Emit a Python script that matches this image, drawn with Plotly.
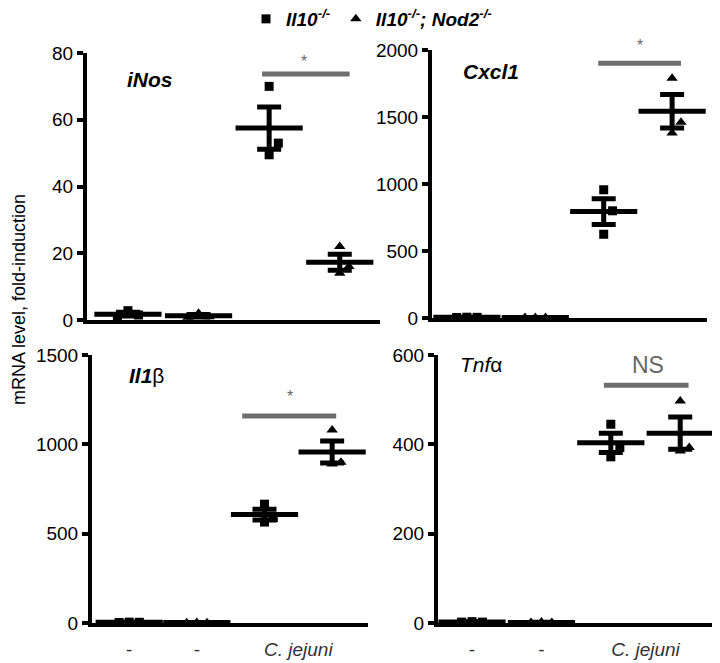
import numpy as np
import plotly.graph_objects as go

# fold-induction per mouse
# group order: Il10-/- ctrl, Il10-/-;Nod2-/- ctrl, Il10-/- C. jejuni, Il10-/-;Nod2-/- C. jejuni
genes = ["<b><i>iNos</i></b>", "<b><i>Cxcl1</i></b>", "<b><i>Il1</i></b>β", "<i>Tnf</i>α"]
inos = [[0.9, 2.8, 1.5], [0.8, 2.0, 1.0], [70, 53, 49.5], [22, 16, 14]]
cxcl1 = [[4, 6, 5], [3, 4, 3], [957, 800, 625], [1790, 1460, 1380]]
il1b = [[3, 5, 4], [2, 3, 2], [665, 590, 565], [1080, 900, 890]]
tnfa = [[2, 3, 2], [1, 2, 1], [445, 393, 372], [497, 393, 385]]
y_max = [80, 2000, 1500, 600]
y_ticks = [[0, 20, 40, 60, 80], [0, 500, 1000, 1500, 2000], [0, 500, 1000, 1500], [0, 200, 400, 600]]
sig_text = ["*", "*", "*", "NS"]
x_labels = ["-", "-", "<i>C. jejuni</i>"]
series_names = ["<b><i>Il10<sup>-/-</sup></i></b>", "<b><i>Il10<sup>-/-</sup>; Nod2<sup>-/-</sup></i></b>"]

data = [inos, cxcl1, il1b, tnfa]

# page is drawn inside the default 8px body margin
OFF = 8
W, H = 720 - OFF, 663 - OFF


def px_x(a, b):
    return [(a - OFF) / W, (b - OFF) / W]


def px_y(top, bottom):
    return [1 - (bottom - OFF) / H, 1 - (top - OFF) / H]


# layout of each panel (page pixel box, x ranges, annotation placement)
panels = [
    dict(xd=px_x(87, 380), yd=px_y(53, 320), xr=[0.42, 4.57],
         lab=(0.96, 72), bar=(2.90, 4.14, 73.7), star=(3.5, 77.5)),
    dict(xd=px_x(432, 707), yd=px_y(50, 318), xr=[0.49, 4.51],
         lab=(0.92, 1836), bar=(2.92, 4.13, 1902), star=(3.53, 2030)),
    dict(xd=px_x(92, 368), yd=px_y(355, 623), xr=[0.45, 4.53],
         lab=(0.96, 1388), bar=(2.67, 4.06, 1158), star=(3.38, 1265)),
    dict(xd=px_x(438, 717), yd=px_y(355, 623), xr=[0.51, 4.53],
         lab=(0.80, 578), bar=(2.90, 4.12, 532), star=(3.54, 578)),
]

low_jitter = [-0.15, 0, 0.15]
high_jitter = [0, 0.13, 0]
symbols = ["square", "triangle-up"]
sizes = [9, 10]
FONT = "Liberation Sans, Arial, sans-serif"

fig = go.Figure()
layout = dict(
    width=W, height=H, margin=dict(l=0, r=0, t=0, b=0, autoexpand=False),
    plot_bgcolor="white", paper_bgcolor="white",
    font=dict(family=FONT, size=18, color="black"),
    shapes=[], annotations=[],
)

for i, (vals, p) in enumerate(zip(data, panels)):
    sfx = "" if i == 0 else str(i + 1)
    xa, ya = "x" + sfx, "y" + sfx
    for g, pts in enumerate(vals):
        kind = g % 2
        jit = low_jitter if g < 2 else high_jitter
        xs = [g + 1 + j for j in jit]
        fig.add_trace(go.Scatter(
            x=xs, y=pts, xaxis=xa, yaxis=ya, mode="markers",
            marker=dict(symbol=symbols[kind], size=sizes[kind], color="black"),
            name=series_names[kind], showlegend=(i == 0 and g < 2),
            cliponaxis=False,
        ))
        arr = np.array(pts, dtype=float)
        mean = arr.mean()
        sem = arr.std(ddof=1) / np.sqrt(len(arr))
        fig.add_trace(go.Scatter(
            x=[g + 1], y=[mean], xaxis=xa, yaxis=ya, mode="markers",
            marker=dict(symbol="line-ew", size=48, line=dict(width=5, color="black")),
            error_y=dict(type="data", array=[sem], thickness=5, width=12, color="black"),
            showlegend=False, cliponaxis=False, hoverinfo="y",
        ))

    bottom = i >= 2
    layout["xaxis" + sfx] = dict(
        domain=p["xd"], anchor=ya, range=p["xr"], showline=True, linewidth=4,
        linecolor="black", showgrid=False, zeroline=False, ticks="",
        showticklabels=bottom, tickvals=[1, 2, 3.5], ticktext=x_labels,
        tickfont=dict(size=19, color="#333"), ticklabelstandoff=6,
    )
    layout["yaxis" + sfx] = dict(
        domain=p["yd"], anchor=xa, range=[0, y_max[i]], showline=True, linewidth=4,
        linecolor="black", showgrid=False, zeroline=False, ticks="outside",
        ticklen=6, tickwidth=4, tickcolor="black", tickvals=y_ticks[i],
        tickfont=dict(size=19, color="black"),
    )
    x0, x1, yb = p["bar"]
    layout["shapes"].append(dict(type="line", xref=xa, yref=ya, x0=x0, x1=x1, y0=yb, y1=yb,
                                 line=dict(color="#6e6e6e", width=5)))
    sx, sy = p["star"]
    layout["annotations"].append(dict(
        x=sx, y=sy / y_max[i], xref=xa, yref=ya + " domain", text=sig_text[i],
        showarrow=False, xanchor="center", yanchor="middle",
        font=dict(size=23 if sig_text[i] == "NS" else 16, color="#666"),
    ))
    lx, ly = p["lab"]
    layout["annotations"].append(dict(
        x=lx, y=ly, xref=xa, yref=ya, text=genes[i], showarrow=False,
        xanchor="left", yanchor="middle", font=dict(size=21, color="black"),
    ))

layout["annotations"].append(dict(
    x=(19 - OFF) / W, y=1 - (300 - OFF) / H, xref="paper", yref="paper",
    text="mRNA level, fold-induction", textangle=-90, showarrow=False,
    xanchor="center", yanchor="middle", font=dict(size=18, color="black"),
))
layout["legend"] = dict(
    orientation="h", x=(372 - OFF) / W, y=1 - (19 - OFF) / H, xanchor="center", yanchor="middle",
    font=dict(size=19, color="black"), itemwidth=30, tracegroupgap=0,
)

fig.update_layout(**layout)
fig.write_html("out.html")
